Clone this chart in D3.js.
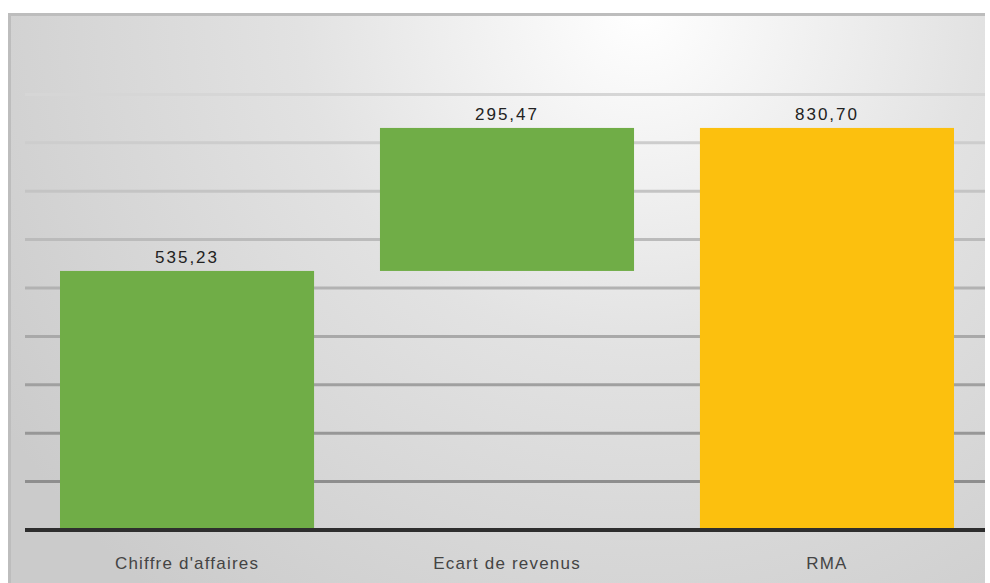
<!DOCTYPE html>
<html><head><meta charset="utf-8">
<script src="https://cdn.jsdelivr.net/npm/d3@7"></script>
<style>html,body{margin:0;padding:0;background:#fff;}svg{display:block;}</style>
</head><body>
<svg id="c" width="990" height="583"></svg>
<script>
const categories = ["Chiffre d'affaires", "Ecart de revenus", "RMA"];
const startValues = [0, 535.23, 0];
const endValues = [535.23, 830.70, 830.70];
const valueLabels = ["535,23", "295,47", "830,70"];
const barColors = ["#70ad47", "#70ad47", "#fcc00e"];
const yTicks = [0, 100, 200, 300, 400, 500, 600, 700, 800, 900];

const svg = d3.select("#c");
const defs = svg.append("defs");
const rg = defs.append("radialGradient").attr("id","bg")
  .attr("gradientUnits","userSpaceOnUse").attr("cx",640).attr("cy",10).attr("r",760)
  .attr("fx",640).attr("fy",10);
rg.append("stop").attr("offset","0%").attr("stop-color","#ffffff");
rg.append("stop").attr("offset","45%").attr("stop-color","#e2e2e2");
rg.append("stop").attr("offset","100%").attr("stop-color","#cbcbcb");

svg.append("rect").attr("x",8).attr("y",13).attr("width",977).attr("height",570).attr("fill","#bdbdbd");
svg.append("rect").attr("x",11).attr("y",16).attr("width",974).attr("height",567).attr("fill","url(#bg)");

const x = d3.scaleBand().domain(categories).range([28, 986]).paddingInner(0.206).paddingOuter(0.1);
const y = d3.scaleLinear().domain([0, 900]).range([530, 94.4]);

const gridColor = d3.scaleLinear().domain([900, 100]).range(["#d6d6d6", "#8e8e8e"]);
svg.append("g").selectAll("line").data(yTicks.filter(d => d > 0)).join("line")
  .attr("x1", 25).attr("x2", 985)
  .attr("y1", d => y(d)).attr("y2", d => y(d))
  .attr("stroke", d => gridColor(d)).attr("stroke-width", 3);

const idx = d3.range(categories.length);
svg.append("g").selectAll("rect").data(idx).join("rect")
  .attr("x", i => x(categories[i]))
  .attr("width", x.bandwidth())
  .attr("y", i => y(endValues[i]))
  .attr("height", i => y(startValues[i]) - y(endValues[i]))
  .attr("fill", i => barColors[i]);

svg.append("line").attr("x1", 25).attr("x2", 985).attr("y1", y(0)).attr("y2", y(0))
  .attr("stroke", "#2e2e2e").attr("stroke-width", 4);

svg.append("g").selectAll("text").data(idx).join("text")
  .attr("x", i => x(categories[i]) + x.bandwidth()/2)
  .attr("y", i => y(endValues[i]) - 8)
  .attr("text-anchor","middle")
  .attr("font-family","Liberation Sans, Arial, sans-serif")
  .attr("font-size", 17).attr("letter-spacing", 2).attr("fill","#222")
  .text(i => valueLabels[i]);

svg.append("g").selectAll("text").data(categories).join("text")
  .attr("x", d => x(d) + x.bandwidth()/2)
  .attr("y", 569)
  .attr("text-anchor","middle")
  .attr("font-family","Liberation Sans, Arial, sans-serif")
  .attr("font-size", 17).attr("letter-spacing", 1.2).attr("fill","#444")
  .text(d => d);
</script>
</body></html>
